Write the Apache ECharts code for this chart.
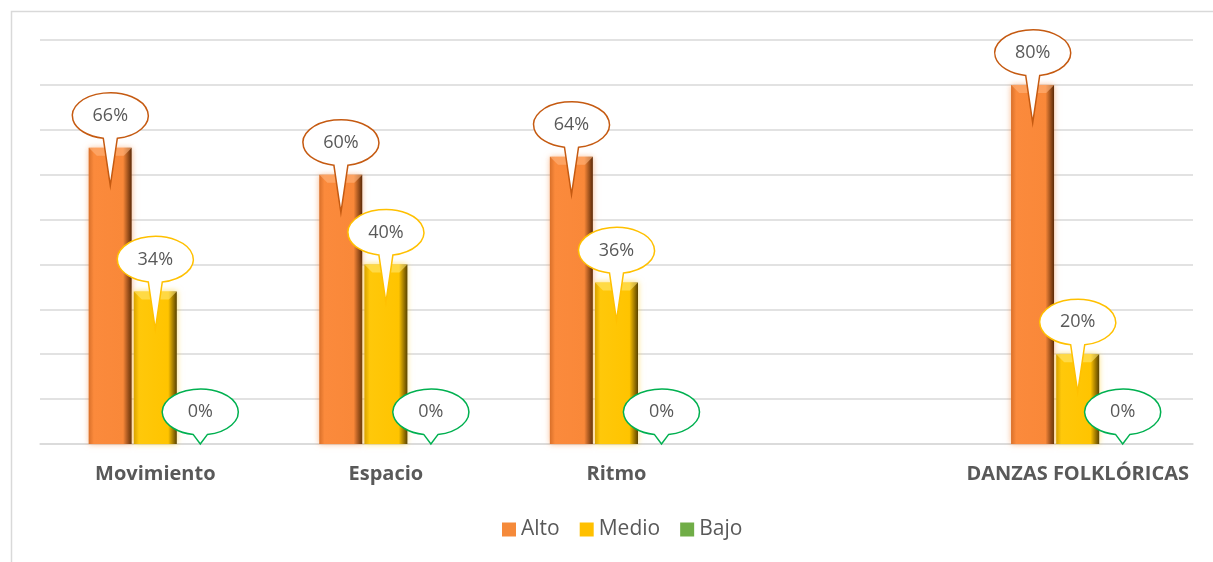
<!DOCTYPE html>
<html><head><meta charset="UTF-8">
<title>danzas</title>
<style>*{margin:0;padding:0}#chart{width:1213px;height:562px;background:#fff}</style>
<script src="https://cdn.jsdelivr.net/npm/echarts@6/dist/echarts.min.js"></script>
</head>
<body>
<div id="chart"></div>
<script>
// datos
const categories = ['Movimiento', 'Espacio', 'Ritmo', '', 'DANZAS FOLKLÓRICAS'];
const seriesNames = ['Alto', 'Medio', 'Bajo'];
const alto = [66, 60, 64, null, 80];
const medio = [34, 40, 36, null, 20];
const bajo = [0, 0, 0, null, 0];

const fillColors = ['#f58a3a', '#ffc000', '#70ad47'];
const edgeColors = ['#c55a11', '#ffc000', '#00b050'];
const bevelColors = ['rgba(255,180,125,0.6)', 'rgba(255,230,110,0.6)'];

const myChart = echarts.init(document.getElementById('chart'));

function barColor(i) {
    if (i === 0) {
        return new echarts.graphic.LinearGradient(0, 0, 1, 0, [
            {offset: 0, color: '#d9702a'}, {offset: 0.12, color: '#fb8a3c'},
            {offset: 0.8, color: '#f98839'}, {offset: 1, color: '#5c2a08'}]);
    }
    if (i === 1) {
        return new echarts.graphic.LinearGradient(0, 0, 1, 0, [
            {offset: 0, color: '#d9a300'}, {offset: 0.12, color: '#ffc80a'},
            {offset: 0.8, color: '#ffc400'}, {offset: 1, color: '#5a4300'}]);
    }
    return fillColors[2];
}

// [categoria, valor, serie]
const callouts = [];
[alto, medio, bajo].forEach((arr, s) => {
    arr.forEach((v, c) => { if (v !== null) callouts.push([c, v, s]); });
});
const bevels = callouts.filter(d => d[1] > 0);

function renderBevel(params, api) {
    const cat = api.value(0), val = api.value(1), s = api.value(2);
    const p = api.coord([cat, val]);
    const x = p[0] + (s - 1) * 45;
    const top = p[1], w = 21.5, b = 8;
    return {
        type: 'polygon',
        shape: {points: [[x - w, top], [x + w, top], [x + w - b, top + b], [x - w + b, top + b]]},
        style: {fill: bevelColors[s]}
    };
}

function renderCallout(params, api) {
    const cat = api.value(0), val = api.value(1), s = api.value(2);
    const p = api.coord([cat, val]);
    const x = p[0] + (s - 1) * 45;
    const top = p[1];
    const cy = top - 32, rx = 38, ry = 23, hw = 7;
    const tipY = val > 0 ? top + 38 : top;
    const dy = ry * Math.sqrt(1 - (hw / rx) * (hw / rx));
    const d = 'M' + (x + hw) + ',' + (cy + dy) + ' A' + rx + ',' + ry + ' 0 1 0 ' + (x - hw) + ',' + (cy + dy) +
        ' L' + x + ',' + tipY + ' Z';
    return {
        type: 'group',
        children: [
            {type: 'path', shape: {pathData: d}, style: {fill: '#fff', stroke: edgeColors[s], lineWidth: 1.5}},
            {type: 'text', style: {text: val + '%', x: x, y: cy, align: 'center', verticalAlign: 'middle',
                font: '18px "Open Sans"', fill: '#595959'}}
        ]
    };
}

const bars = [alto, medio, bajo].map((arr, i) => ({
    name: seriesNames[i],
    type: 'bar',
    data: arr,
    barWidth: 43,
    barGap: '5%',
    itemStyle: {
        color: barColor(i),
        shadowBlur: i < 2 ? 6 : 0,
        shadowColor: i === 0 ? 'rgba(245,130,50,0.55)' : 'rgba(255,200,0,0.55)'
    }
}));

myChart.setOption({
    animation: false,
    textStyle: {fontFamily: 'Open Sans'},
    graphic: [{
        type: 'rect', left: 9, top: 9,
        shape: {width: 1230, height: 580},
        style: {fill: 'none', stroke: '#d9d9d9', lineWidth: 1.5}, silent: true
    }],
    grid: {left: 40, right: 20, top: 40, bottom: 118},
    legend: {
        data: seriesNames.map((n, i) => ({name: n, itemStyle: {color: fillColors[i]}})),
        top: 514, left: 497,
        icon: 'rect', itemWidth: 14, itemHeight: 14, itemGap: 20, itemTextGap: 5,
        textStyle: {fontSize: 21, color: '#595959', fontFamily: 'Open Sans'}
    },
    xAxis: {
        type: 'category',
        data: categories,
        axisTick: {show: false},
        axisLine: {lineStyle: {color: '#d9d9d9', width: 1.5}},
        axisLabel: {fontSize: 20, fontWeight: 'bold', color: '#595959', margin: 20, interval: 0,
            fontFamily: 'Open Sans'}
    },
    yAxis: {
        type: 'value', min: 0, max: 90, interval: 10,
        axisLabel: {show: false},
        splitLine: {lineStyle: {color: '#d9d9d9', width: 1.5}}
    },
    series: bars.concat([{
        name: 'bisel',
        type: 'custom',
        data: bevels,
        renderItem: renderBevel,
        z: 5
    }, {
        name: 'globos',
        type: 'custom',
        data: callouts,
        renderItem: renderCallout,
        clip: false,
        z: 10
    }])
});
</script>
</body></html>
